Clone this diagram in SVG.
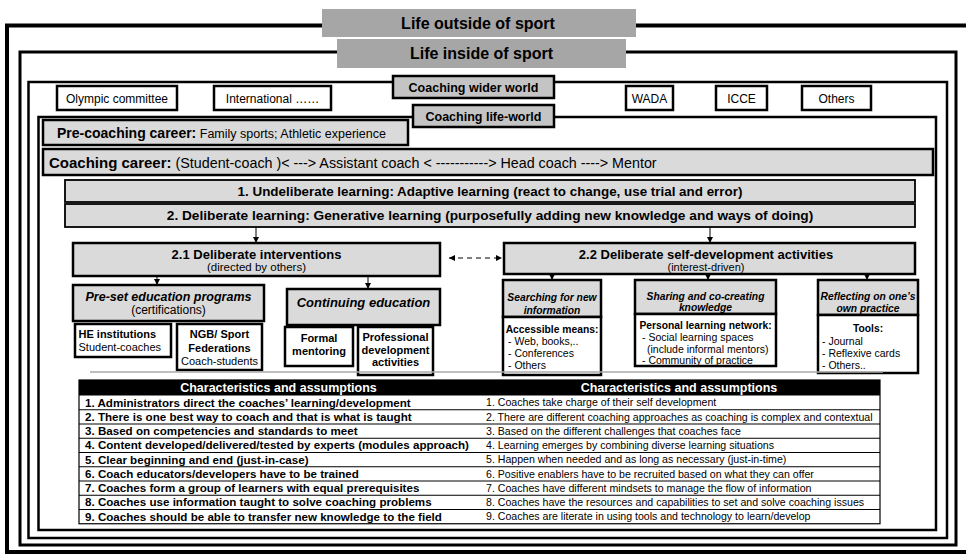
<svg xmlns="http://www.w3.org/2000/svg" width="966" height="556" viewBox="0 0 966 556">
<defs>
<style>
text{font-family:"Liberation Sans",Arial,Helvetica,sans-serif;fill:#000}
.frame{fill:none;stroke:#000}
.t1{fill:#a6a6a6}
.t2{fill:#c4c4c4;stroke:#000;stroke-width:2.5}
.org{fill:#fff;stroke:#000;stroke-width:2.5}
.gbox{fill:#dadada;stroke:#000;stroke-width:2.5}
.bar{fill:#dadada;stroke:#000;stroke-width:1.8}
.wbox{fill:#fff;stroke:#000;stroke-width:2.5}
.b{font-weight:bold}
.bi{font-weight:bold;font-style:italic}
.c{text-anchor:middle}
.sh{font-size:10.3px}
.li{font-size:10.5px}
.conn{stroke:#000;stroke-width:1;fill:none}
.rl{stroke:#000;stroke-width:1}
.lt{font-weight:bold;font-size:11.6px}
.rt{font-size:10.6px}
.hd{fill:#fff;font-weight:bold;font-size:12.5px;text-anchor:middle}
</style>
<marker id="ah" viewBox="0 0 10 10" refX="10" refY="5" markerWidth="6" markerHeight="6" markerUnits="userSpaceOnUse" orient="auto-start-reverse"><path d="M0,0L10,5L0,10z" fill="#000"/></marker>
</defs>
<rect x="0" y="0" width="966" height="556" fill="#fff"/>

<g id="life-outside">
<rect class="frame" x="7" y="25.5" width="970" height="526.5" stroke-width="4"/>
<rect class="t1" x="322" y="9" width="314" height="28"/>
<text class="b c" x="478" y="29" font-size="16">Life outside of sport</text>
</g>
<g id="life-inside">
<rect class="frame" x="20" y="52" width="936" height="493" stroke-width="3"/>
<rect class="t1" x="337" y="39" width="289" height="29"/>
<text class="b c" x="481.5" y="59" font-size="16">Life inside of sport</text>
</g>
<g id="wider-world">
<rect class="frame" x="28.5" y="82" width="918.5" height="456" stroke-width="2.5"/>
<rect class="t2" x="393" y="76" width="161" height="22"/>
<text class="b c" x="473.5" y="91.5" font-size="12.5">Coaching wider world</text>
</g>
<g id="life-world">
<rect class="frame" x="38.5" y="117" width="897.5" height="413" stroke-width="2.5"/>
<rect class="t2" x="413" y="105" width="141" height="22"/>
<text class="b c" x="483.5" y="120.5" font-size="12.5">Coaching life-world</text>
</g>

<g id="olympic"><rect class="org" x="57" y="86" width="120" height="24"/><text class="c" x="117" y="102.5" font-size="12">Olympic committee</text></g>
<g id="international"><rect class="org" x="214" y="86" width="117" height="24"/><text class="c" x="272.5" y="102.5" font-size="12">International ……</text></g>
<g id="wada"><rect class="org" x="626" y="86" width="47" height="24"/><text class="c" x="649.5" y="102.5" font-size="12">WADA</text></g>
<g id="icce"><rect class="org" x="716" y="86" width="51" height="24"/><text class="c" x="741.5" y="102.5" font-size="12">ICCE</text></g>
<g id="others"><rect class="org" x="802" y="86" width="69" height="24"/><text class="c" x="836.5" y="102.5" font-size="12">Others</text></g>

<g id="pre-coaching"><rect class="gbox" x="43" y="120" width="365" height="25"/>
<text x="57" y="138"><tspan class="b" font-size="14">Pre-coaching career:</tspan><tspan font-size="12.5"> Family sports; Athletic experience</tspan></text></g>
<g id="coaching-career"><rect class="gbox" x="43" y="149" width="890" height="26"/>
<text x="49" y="167.5"><tspan class="b" font-size="15">Coaching career:</tspan><tspan font-size="14.3"> (Student-coach )&lt; ---&gt; Assistant coach &lt; -----------&gt; Head coach ----&gt; Mentor</tspan></text></g>

<g id="undeliberate"><rect class="bar" x="65" y="180" width="850" height="22"/>
<text class="b c" x="490" y="195.5" font-size="13.4">1. Undeliberate learning: Adaptive learning (react to change, use trial and error)</text></g>
<g id="deliberate"><rect class="bar" x="65" y="204" width="850" height="23"/>
<text class="b c" x="490" y="220" font-size="13.7">2. Deliberate learning: Generative learning (purposefully adding new knowledge and ways of doing)</text></g>

<g id="interventions"><rect class="gbox" x="73" y="243" width="367" height="33"/>
<text class="b c" x="256.5" y="258.7" font-size="13">2.1 Deliberate interventions</text>
<text class="c" x="256.5" y="271" font-size="11.5">(directed by others)</text></g>
<g id="self-development"><rect class="gbox" x="504" y="243" width="411" height="31"/>
<text class="b c" x="706" y="258.5" font-size="13">2.2 Deliberate self-development activities</text>
<text class="c" x="706" y="270.5" font-size="11">(interest-driven)</text></g>

<g id="preset"><rect class="gbox" x="73" y="285" width="191" height="36"/>
<text class="bi c" x="168.5" y="301" font-size="12.5">Pre-set education programs</text>
<text class="c" x="168.5" y="313.5" font-size="12">(certifications)</text></g>
<g id="continuing"><rect class="gbox" x="287" y="289" width="153" height="36"/>
<text class="bi c" x="363.5" y="307" font-size="13">Continuing education</text></g>
<g id="he"><rect class="wbox" x="75" y="324" width="96" height="33"/>
<text class="b" x="78.5" y="338" font-size="11">HE institutions</text>
<text x="78.5" y="351" font-size="11">Student-coaches</text></g>
<g id="ngb"><rect class="wbox" x="177" y="324" width="85" height="46"/>
<text class="b c" x="219.5" y="338" font-size="11">NGB/ Sport</text>
<text class="b c" x="219.5" y="352" font-size="11">Federations</text>
<text class="c" x="219.5" y="365" font-size="11">Coach-students</text></g>
<g id="formal"><rect class="wbox" x="285" y="327" width="68" height="39"/>
<text class="b c" x="319" y="342" font-size="11">Formal</text>
<text class="b c" x="319" y="355" font-size="11">mentoring</text></g>
<g id="professional"><rect class="wbox" x="358" y="327" width="75" height="48"/>
<text class="b c" x="395.5" y="341" font-size="11">Professional</text>
<text class="b c" x="395.5" y="353.5" font-size="11">development</text>
<text class="b c" x="395.5" y="366" font-size="11">activities</text></g>

<g id="searching"><rect class="gbox" x="503" y="280" width="98" height="37"/>
<text class="bi c sh" x="552" y="301">Searching for new</text>
<text class="bi c sh" x="552" y="313.5">information</text>
<rect class="wbox" x="503" y="317" width="98" height="58"/>
<text class="b c sh" x="552" y="333">Accessible means:</text>
<text class="li" x="508" y="345">- Web, books,..</text>
<text class="li" x="508" y="357">- Conferences</text>
<text class="li" x="508" y="369">- Others</text></g>
<g id="sharing"><rect class="gbox" x="635" y="280" width="141" height="34"/>
<text class="bi c sh" x="705.5" y="299.5">Sharing and co-creating</text>
<text class="bi c sh" x="705.5" y="311">knowledge</text>
<rect class="wbox" x="635" y="314" width="141" height="52"/>
<text class="b c sh" x="705.5" y="329">Personal learning network:</text>
<text class="li" x="642" y="341">- Social learning spaces</text>
<text class="li" x="647" y="352.5">(include informal mentors)</text>
<text class="li" x="642" y="364">- Community of practice</text></g>
<g id="reflecting"><rect class="gbox" x="818" y="280" width="100" height="35"/>
<text class="bi c sh" x="868" y="300">Reflecting on one’s</text>
<text class="bi c sh" x="868" y="312">own practice</text>
<rect class="wbox" x="818" y="315" width="100" height="58"/>
<text class="b c sh" x="868" y="332">Tools:</text>
<text class="li" x="822" y="345">- Journal</text>
<text class="li" x="822" y="357">- Reflexive cards</text>
<text class="li" x="822" y="369">- Others..</text></g>

<line x1="90" y1="372" x2="883" y2="372" stroke="#aaa" stroke-width="1.5"/>

<g id="table">
<rect x="79" y="380" width="801" height="15.5" fill="#000"/>
<text class="hd" x="278.5" y="392">Characteristics and assumptions</text>
<text class="hd" x="679" y="392">Characteristics and assumptions</text>
<rect x="79" y="380" width="801" height="143.75" fill="none" stroke="#000" stroke-width="1.2"/>
<line class="rl" x1="79" y1="409.75" x2="880" y2="409.75"/>
<line class="rl" x1="79" y1="424" x2="880" y2="424"/>
<line class="rl" x1="79" y1="438.25" x2="880" y2="438.25"/>
<line class="rl" x1="79" y1="452.5" x2="880" y2="452.5"/>
<line class="rl" x1="79" y1="466.75" x2="880" y2="466.75"/>
<line class="rl" x1="79" y1="481" x2="880" y2="481"/>
<line class="rl" x1="79" y1="495.25" x2="880" y2="495.25"/>
<line class="rl" x1="79" y1="509.5" x2="880" y2="509.5"/>
<text class="lt" x="85" y="406.6">1. Administrators direct the coaches’ learning/development</text>
<text class="lt" x="85" y="420.9">2. There is one best way to coach and that is what is taught</text>
<text class="lt" x="85" y="435.1">3. Based on competencies and standards to meet</text>
<text class="lt" x="85" y="449.4">4. Content developed/delivered/tested by experts (modules approach)</text>
<text class="lt" x="85" y="463.6">5. Clear beginning and end (just-in-case)</text>
<text class="lt" x="85" y="477.9">6. Coach educators/developers have to be trained</text>
<text class="lt" x="85" y="492.1">7. Coaches form a group of learners with equal prerequisites</text>
<text class="lt" x="85" y="506.4">8. Coaches use information taught to solve coaching problems</text>
<text class="lt" x="85" y="520.6">9. Coaches should be able to transfer new knowledge to the field</text>
<text class="rt" x="486" y="406.3">1. Coaches take charge of their self development</text>
<text class="rt" x="486" y="420.6">2. There are different coaching approaches as coaching is complex and contextual</text>
<text class="rt" x="486" y="434.8">3. Based on the different challenges that coaches face</text>
<text class="rt" x="486" y="449.1">4. Learning emerges by combining diverse learning situations</text>
<text class="rt" x="486" y="463.3">5. Happen when needed and as long as necessary (just-in-time)</text>
<text class="rt" x="486" y="477.6">6. Positive enablers have to be recruited based on what they can offer</text>
<text class="rt" x="486" y="491.8">7. Coaches have different mindsets to manage the flow of information</text>
<text class="rt" x="486" y="506.1">8. Coaches have the resources and capabilities to set and solve coaching issues</text>
<text class="rt" x="486" y="520.3">9. Coaches are literate in using tools and technology to learn/develop</text>
</g>

<g id="connectors">
<line class="conn" x1="256" y1="227" x2="256" y2="243" marker-end="url(#ah)"/>
<line class="conn" x1="710" y1="227" x2="710" y2="243" marker-end="url(#ah)"/>
<line class="conn" x1="449" y1="258" x2="502" y2="258" stroke-dasharray="5,4" marker-start="url(#ah)" marker-end="url(#ah)"/>
<line class="conn" x1="157" y1="276" x2="157" y2="285" marker-end="url(#ah)"/>
<line class="conn" x1="368" y1="276" x2="368" y2="289" marker-end="url(#ah)"/>
<line class="conn" x1="552" y1="274" x2="552" y2="280" marker-end="url(#ah)"/>
<line class="conn" x1="708" y1="274" x2="708" y2="280" marker-end="url(#ah)"/>
<line class="conn" x1="867" y1="274" x2="867" y2="280" marker-end="url(#ah)"/>
</g>
</svg>
